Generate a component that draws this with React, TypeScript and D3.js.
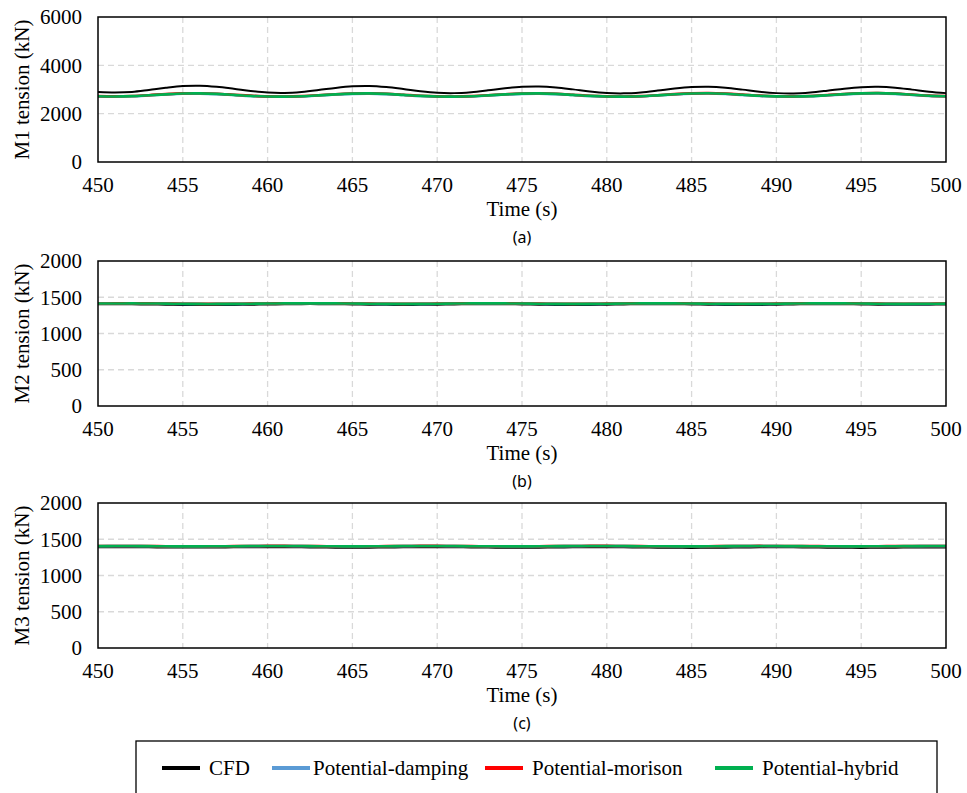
import React from "react";
import * as d3 from "d3";

// time axis, one sample per second
const time = d3.range(450, 501);
const xTicks = [450, 455, 460, 465, 470, 475, 480, 485, 490, 495, 500];

// ---- M1 tension (kN)
const m1Cfd = [2900, 2880, 2900, 2980, 3070, 3140, 3155, 3110, 3030, 2940, 2875, 2860, 2900, 2975, 3065, 3130, 3145, 3100, 3020, 2930, 2865, 2850, 2890, 2965, 3050, 3110, 3125, 3085, 3005, 2915, 2855, 2840, 2880, 2955, 3040, 3100, 3115, 3075, 2995, 2905, 2850, 2835, 2875, 2950, 3035, 3095, 3110, 3075, 2995, 2910, 2850];
const m1Damping = [2715, 2705, 2720, 2755, 2795, 2825, 2830, 2810, 2770, 2730, 2705, 2700, 2715, 2750, 2790, 2820, 2830, 2810, 2770, 2730, 2705, 2700, 2715, 2750, 2790, 2820, 2830, 2810, 2770, 2730, 2705, 2700, 2715, 2750, 2795, 2825, 2835, 2815, 2775, 2735, 2710, 2705, 2720, 2755, 2800, 2830, 2840, 2820, 2775, 2735, 2715];
const m1Morison = [2725, 2715, 2730, 2765, 2810, 2840, 2845, 2825, 2785, 2745, 2715, 2710, 2725, 2760, 2805, 2835, 2845, 2825, 2785, 2740, 2715, 2710, 2725, 2760, 2805, 2835, 2845, 2825, 2785, 2740, 2715, 2710, 2725, 2765, 2810, 2840, 2850, 2830, 2790, 2745, 2720, 2715, 2730, 2770, 2815, 2845, 2855, 2835, 2790, 2745, 2725];
const m1Hybrid = [2720, 2710, 2725, 2760, 2800, 2832, 2838, 2818, 2778, 2736, 2710, 2705, 2720, 2755, 2798, 2828, 2838, 2818, 2778, 2735, 2710, 2705, 2720, 2755, 2798, 2828, 2838, 2818, 2778, 2735, 2710, 2705, 2720, 2758, 2802, 2832, 2842, 2822, 2782, 2740, 2715, 2710, 2725, 2762, 2808, 2838, 2848, 2828, 2782, 2740, 2720];

// ---- M2 tension (kN)
const m2Cfd = [1405, 1404, 1402, 1400, 1397, 1394, 1392, 1392, 1394, 1397, 1400, 1403, 1405, 1405, 1404, 1401, 1398, 1395, 1394, 1395, 1398, 1401, 1404, 1405, 1404, 1401, 1397, 1394, 1393, 1394, 1397, 1401, 1404, 1405, 1404, 1401, 1397, 1394, 1393, 1394, 1397, 1401, 1404, 1405, 1404, 1401, 1398, 1396, 1396, 1398, 1401];
const m2Damping = [1412, 1413, 1414, 1413, 1411, 1409, 1407, 1407, 1408, 1410, 1412, 1414, 1415, 1415, 1414, 1412, 1410, 1408, 1407, 1408, 1410, 1412, 1414, 1415, 1414, 1412, 1410, 1408, 1407, 1408, 1410, 1412, 1414, 1415, 1414, 1412, 1410, 1408, 1407, 1408, 1410, 1412, 1414, 1415, 1414, 1412, 1410, 1408, 1408, 1409, 1411];
const m2Morison = [1414, 1415, 1416, 1415, 1413, 1411, 1409, 1409, 1410, 1412, 1414, 1416, 1417, 1417, 1416, 1414, 1412, 1410, 1409, 1410, 1412, 1414, 1416, 1417, 1416, 1414, 1412, 1410, 1409, 1410, 1412, 1414, 1416, 1417, 1416, 1414, 1412, 1410, 1409, 1410, 1412, 1414, 1416, 1417, 1416, 1414, 1412, 1410, 1410, 1411, 1413];
const m2Hybrid = [1413, 1414, 1415, 1414, 1412, 1410, 1408, 1408, 1409, 1411, 1413, 1415, 1416, 1416, 1415, 1413, 1411, 1409, 1408, 1409, 1411, 1413, 1415, 1416, 1415, 1413, 1411, 1409, 1408, 1409, 1411, 1413, 1415, 1416, 1415, 1413, 1411, 1409, 1408, 1409, 1411, 1413, 1415, 1416, 1415, 1413, 1411, 1409, 1409, 1410, 1412];

// ---- M3 tension (kN)
const m3Cfd = [1390, 1391, 1390, 1388, 1386, 1385, 1385, 1386, 1388, 1390, 1391, 1390, 1388, 1386, 1384, 1383, 1384, 1386, 1388, 1390, 1390, 1389, 1387, 1385, 1383, 1383, 1384, 1386, 1388, 1389, 1389, 1388, 1386, 1384, 1382, 1381, 1382, 1384, 1386, 1388, 1389, 1388, 1386, 1384, 1382, 1381, 1382, 1384, 1386, 1387, 1387];
const m3Damping = [1404, 1405, 1405, 1404, 1402, 1401, 1401, 1402, 1403, 1405, 1406, 1406, 1405, 1403, 1402, 1401, 1402, 1403, 1405, 1406, 1406, 1405, 1403, 1402, 1401, 1401, 1402, 1404, 1405, 1406, 1406, 1405, 1403, 1402, 1401, 1401, 1402, 1404, 1405, 1406, 1405, 1404, 1403, 1402, 1401, 1401, 1402, 1403, 1404, 1405, 1405];
const m3Morison = [1406, 1407, 1407, 1406, 1404, 1403, 1403, 1404, 1405, 1407, 1408, 1408, 1407, 1405, 1404, 1403, 1404, 1405, 1407, 1408, 1408, 1407, 1405, 1404, 1403, 1403, 1404, 1406, 1407, 1408, 1408, 1407, 1405, 1404, 1403, 1403, 1404, 1406, 1407, 1408, 1407, 1406, 1405, 1404, 1403, 1403, 1404, 1405, 1406, 1407, 1407];
const m3Hybrid = [1405, 1406, 1406, 1405, 1403, 1402, 1402, 1403, 1404, 1406, 1407, 1407, 1406, 1404, 1403, 1402, 1403, 1404, 1406, 1407, 1407, 1406, 1404, 1403, 1402, 1402, 1403, 1405, 1406, 1407, 1407, 1406, 1404, 1403, 1402, 1402, 1403, 1405, 1406, 1407, 1406, 1405, 1404, 1403, 1402, 1402, 1403, 1404, 1405, 1406, 1406];

const seriesNames = ["CFD", "Potential-damping", "Potential-morison", "Potential-hybrid"];
const seriesColors = ["#000000", "#5B9BD5", "#FF0000", "#00B050"];

const SERIF = "'Times New Roman', 'Liberation Serif', serif";
const SANS = "'Noto Sans', 'DejaVu Sans', sans-serif";

const left = 98;
const right = 946;

function Panel({top, height, yMax, yStep, yTitle, tag, series}) {
  const x = d3.scaleLinear().domain([450, 500]).range([left, right]);
  const y = d3.scaleLinear().domain([0, yMax]).range([top + height, top]);
  const yTicks = d3.range(0, yMax + 1, yStep);
  const line = d3.line<number>()
    .x((d, i) => x(time[i]))
    .y(d => y(d))
    .curve(d3.curveCatmullRom);
  const bottom = top + height;

  return (
    <g>
      {/* grid */}
      {xTicks.slice(1, -1).map(t => (
        <line key={"gx" + t} x1={x(t)} x2={x(t)} y1={top} y2={bottom}
              stroke="#d9d9d9" strokeWidth={1.3} strokeDasharray="6,4"/>
      ))}
      {yTicks.slice(1, -1).map(t => (
        <line key={"gy" + t} x1={left} x2={right} y1={y(t)} y2={y(t)}
              stroke="#d9d9d9" strokeWidth={1.3} strokeDasharray="6,4"/>
      ))}
      {series.map((s, i) => (
        <path key={i} d={line(s)} fill="none" stroke={seriesColors[i]}
              strokeWidth={i === 0 ? 2 : 2.6}/>
      ))}
      <rect x={left} y={top} width={right - left} height={height}
            fill="none" stroke="#000" strokeWidth={1.5}/>
      {yTicks.map(t => (
        <text key={"ty" + t} x={left - 16} y={y(t)} dy="0.35em" textAnchor="end"
              fontFamily={SERIF} fontSize={21}>{t}</text>
      ))}
      {xTicks.map(t => (
        <text key={"tx" + t} x={x(t)} y={bottom + 30} textAnchor="middle"
              fontFamily={SERIF} fontSize={21}>{t}</text>
      ))}
      <text x={(left + right) / 2} y={bottom + 54} textAnchor="middle"
            fontFamily={SERIF} fontSize={21}>Time (s)</text>
      <text x={(left + right) / 2} y={bottom + 81} textAnchor="middle"
            fontFamily={SANS} fontSize={16}>{tag}</text>
      <text transform={`translate(29,${top + height / 2}) rotate(-90)`} textAnchor="middle"
            fontFamily={SERIF} fontSize={21}>{yTitle}</text>
    </g>
  );
}

export default function App() {
  const legendText = [209, 313, 532, 762];
  const legendLine = [162, 272, 485, 715];
  return (
    <svg width={967} height={793} style={{position: "absolute", left: 0, top: 0, background: "#fff"}}>
      <rect width={967} height={793} fill="#fff"/>
      <Panel top={17} height={145} yMax={6000} yStep={2000} yTitle="M1 tension (kN)" tag="(a)"
             series={[m1Cfd, m1Damping, m1Morison, m1Hybrid]}/>
      <Panel top={261} height={145} yMax={2000} yStep={500} yTitle="M2 tension (kN)" tag="(b)"
             series={[m2Cfd, m2Damping, m2Morison, m2Hybrid]}/>
      <Panel top={503} height={145} yMax={2000} yStep={500} yTitle="M3 tension (kN)" tag="(c)"
             series={[m3Cfd, m3Damping, m3Morison, m3Hybrid]}/>
      {/* legend */}
      <rect x={136} y={741} width={801} height={60} fill="#fff" stroke="#000" strokeWidth={1.3}/>
      {seriesNames.map((n, i) => (
        <g key={n}>
          <line x1={legendLine[i]} x2={legendLine[i] + 38} y1={768} y2={768}
                stroke={seriesColors[i]} strokeWidth={4}/>
          <text x={legendText[i]} y={768} dy="0.35em"
                fontFamily={SERIF} fontSize={21}>{n}</text>
        </g>
      ))}
    </svg>
  );
}
